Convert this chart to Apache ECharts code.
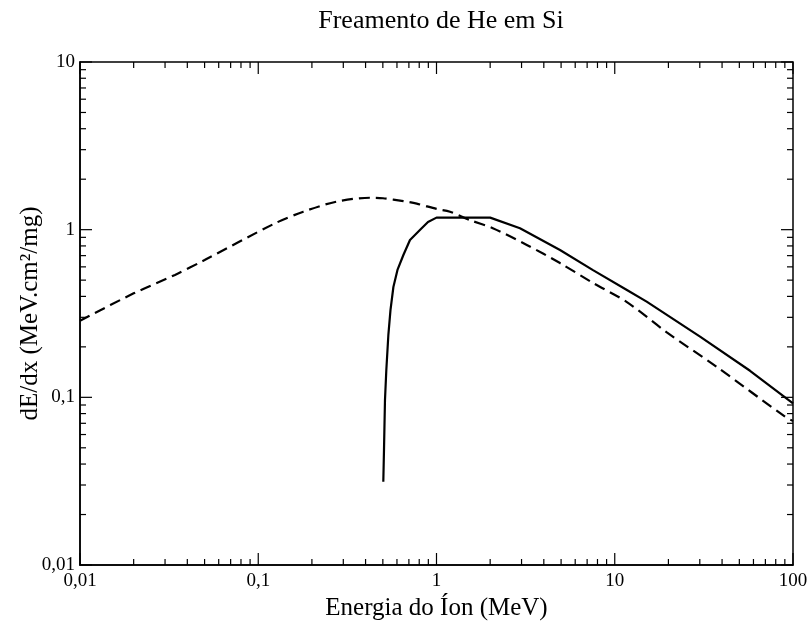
<!DOCTYPE html>
<html>
<head>
<meta charset="utf-8">
<script src="https://cdn.jsdelivr.net/npm/echarts@6/dist/echarts.min.js"></script>
<style>
html,body{margin:0;padding:0;background:#fff}
#ch{width:807px;height:626px}
</style>
</head>
<body>
<div id="ch"></div>
<script>
/* Freamento de He em Si — dE/dx vs energia, escalas log-log */
const SERIF = "'Liberation Serif','Times New Roman',serif";

// curva tracejada (energia MeV, dE/dx MeV.cm²/mg)
const DASH_E = [0.01, 0.02, 0.0341, 0.05, 0.124, 0.179, 0.275, 0.424, 0.501, 0.652, 0.775, 1.0, 1.19, 1.54, 2.07, 3.21, 4.93, 7.55, 11.7, 19.5, 37.3, 90.2, 100];
const DASH_S = [0.286, 0.417, 0.537, 0.659, 1.09, 1.28, 1.47, 1.55, 1.54, 1.48, 1.43, 1.33, 1.28, 1.14, 1.02, 0.811, 0.632, 0.481, 0.370, 0.245, 0.152, 0.0767, 0.0723];

// curva contínua
const SOL_E = [0.503, 0.5075, 0.514, 0.523, 0.537, 0.552, 0.573, 0.604, 0.652, 0.710, 0.807, 0.896, 1.0, 2.0, 2.94, 4.93, 7.55, 11.7, 15.1, 30.1, 57.4, 100];
const SOL_S = [0.0314, 0.0485, 0.0964, 0.1456, 0.236, 0.332, 0.455, 0.575, 0.706, 0.868, 0.995, 1.111, 1.18, 1.18, 1.02, 0.757, 0.574, 0.437, 0.372, 0.230, 0.144, 0.092];

// marcas dos eixos
const X_DEC = [0.01, 0.1, 1, 10, 100];
const Y_DEC = [0.01, 0.1, 1, 10];
const MULT = [2, 3, 4, 5, 6, 7, 8, 9];
const XMIN = 0.01, XMAX = 100, YMIN = 0.01, YMAX = 10;

const zip = (a, b) => a.map((v, i) => [v, b[i]]);
const minors = dec => dec.slice(0, -1).flatMap(d => MULT.map(m => +(d * m).toPrecision(3)));
const xTicks = [...X_DEC.map(v => [v, YMIN, 12]), ...minors(X_DEC).map(v => [v, YMIN, 6])];
const yTicks = [...Y_DEC.map(v => [XMIN, v, 12]), ...minors(Y_DEC).map(v => [XMIN, v, 6])];
const fmtLbl = v => String(+(+v).toPrecision(3)).replace(".", ",");

const tickStyle = {stroke: "#000", lineWidth: 1.2};
function xTick(params, api){
  const v = api.value(0), len = api.value(2);
  const b = api.coord([v, YMIN]), t = api.coord([v, YMAX]);
  return {type: "group", children: [
    {type: "line", shape: {x1: b[0], y1: b[1], x2: b[0], y2: b[1] - len}, style: tickStyle},
    {type: "line", shape: {x1: t[0], y1: t[1], x2: t[0], y2: t[1] + len}, style: tickStyle}
  ]};
}
function yTick(params, api){
  const v = api.value(1), len = api.value(2);
  const l = api.coord([XMIN, v]), r = api.coord([XMAX, v]);
  return {type: "group", children: [
    {type: "line", shape: {x1: l[0], y1: l[1], x2: l[0] + len, y2: l[1]}, style: tickStyle},
    {type: "line", shape: {x1: r[0], y1: r[1], x2: r[0] - len, y2: r[1]}, style: tickStyle}
  ]};
}

const chart = echarts.init(document.getElementById("ch"), null, {renderer: "canvas"});
chart.setOption({
  animation: false,
  backgroundColor: "#fff",
  textStyle: {fontFamily: SERIF, color: "#000"},
  title: {
    text: "Freamento de He em Si", left: 436, top: 3, textAlign: "center",
    textStyle: {fontFamily: SERIF, fontWeight: "normal", fontSize: 26, color: "#000"}
  },
  grid: {left: 80, right: 14, top: 62, bottom: 61, show: true, borderColor: "#000", borderWidth: 1.5,
         backgroundColor: "transparent", containLabel: false, outerBoundsMode: "none"},
  xAxis: {
    type: "log", logBase: 10, min: XMIN, max: XMAX,
    name: "Energia do Íon (MeV)", nameLocation: "middle", nameGap: 29,
    nameTextStyle: {fontFamily: SERIF, fontSize: 25, color: "#000"},
    axisLine: {show: true, lineStyle: {color: "#000", width: 1.5}},
    axisTick: {show: false}, splitLine: {show: false}, minorTick: {show: false},
    axisLabel: {fontFamily: SERIF, fontSize: 19, color: "#000", margin: 7, formatter: fmtLbl, showMinLabel: true, showMaxLabel: true}
  },
  yAxis: {
    type: "log", logBase: 10, min: YMIN, max: YMAX,
    name: "dE/dx (MeV.cm²/mg)", nameLocation: "middle", nameGap: 37, nameRotate: 90, nameMoveOverlap: false,
    nameTextStyle: {fontFamily: SERIF, fontSize: 25, color: "#000"},
    axisLine: {show: true, lineStyle: {color: "#000", width: 1.5}},
    axisTick: {show: false}, splitLine: {show: false}, minorTick: {show: false},
    axisLabel: {fontFamily: SERIF, fontSize: 19, color: "#000", margin: 5, formatter: fmtLbl, showMinLabel: true, showMaxLabel: true}
  },
  series: [
    {type: "line", data: zip(DASH_E, DASH_S), showSymbol: false, smooth: 0.3, clip: true,
     lineStyle: {color: "#000", width: 2.2, type: [11, 6]}},
    {type: "line", data: zip(SOL_E, SOL_S), showSymbol: false, smooth: false, clip: true,
     lineStyle: {color: "#000", width: 2.2}},
    {type: "custom", renderItem: xTick, data: xTicks, clip: false, silent: true, encode: {x: 0, y: 1}, z: 5},
    {type: "custom", renderItem: yTick, data: yTicks, clip: false, silent: true, encode: {x: 0, y: 1}, z: 5}
  ]
});
</script>
</body>
</html>
